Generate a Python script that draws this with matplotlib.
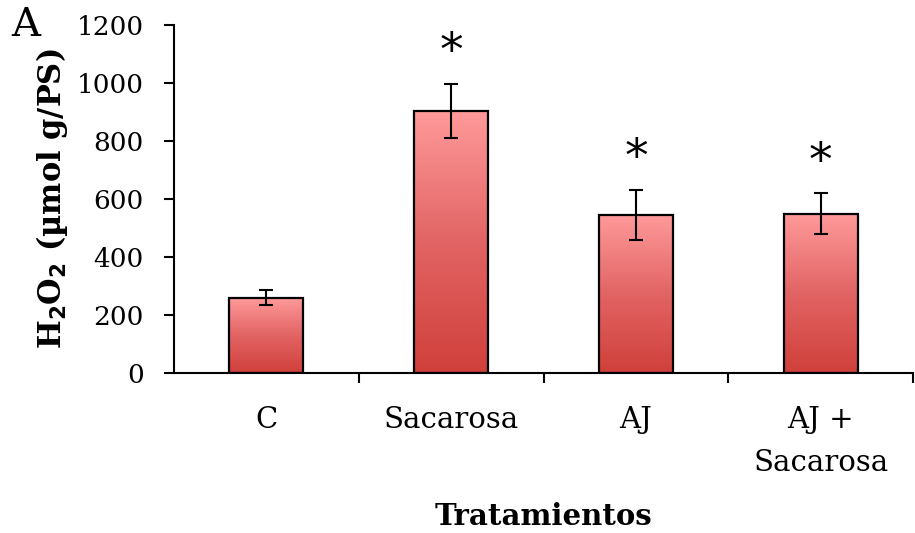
import numpy as np
import matplotlib.pyplot as plt
from matplotlib.colors import LinearSegmentedColormap

plt.rcParams['font.family'] = ['DejaVu Serif']

categorias = ["C", "Sacarosa", "AJ", "AJ +\nSacarosa"]
h2o2 = [260, 905, 546, 550]
error = [26, 93, 86, 70]
signif = [False, True, True, True]

fig = plt.figure(figsize=(9.15, 5.33), dpi=100)
ax = fig.add_axes([0.190, 0.300, 0.808, 0.653])

x = np.arange(len(categorias))
ancho = 0.4
grad = LinearSegmentedColormap.from_list("g", ["#d0403b", "#e26464", "#ff9a9a"])
gimg = np.linspace(0, 1, 256).reshape(-1, 1)

barras = ax.bar(x, h2o2, width=ancho, facecolor='none', edgecolor='black',
                linewidth=1.6, zorder=3)
for b in barras:
    x0, y0 = b.get_x(), b.get_y()
    im = ax.imshow(gimg, cmap=grad, origin='lower', aspect='auto',
                   extent=[x0, x0 + b.get_width(), y0, y0 + b.get_height()],
                   zorder=2)
    im.set_clip_path(b)

ax.errorbar(x, h2o2, yerr=error, fmt='none', ecolor='black', elinewidth=1.5,
            capsize=5, capthick=1.5, zorder=4)

for xi, v, e, s in zip(x, h2o2, error, signif):
    if s:
        ax.annotate("*", (xi, v + e), xytext=(0, 6), textcoords='offset points',
                    ha='center', va='bottom', fontsize=34, family='DejaVu Sans')

ax.set_xlim(-0.5, 3.5)
ax.set_ylim(0, 1200)
ax.set_yticks(range(0, 1201, 200))
ax.set_xticks(x)
ax.set_xticklabels(categorias, fontsize=21, linespacing=1.65)
ax.set_xticks(x + 0.5, minor=True)
ax.tick_params(axis='x', which='major', length=0, pad=24)
ax.tick_params(axis='x', which='minor', length=7.5, width=1.5, direction='out')
ax.tick_params(axis='y', length=7.5, width=1.5, direction='out', labelsize=19, pad=14)

for s in ['top', 'right']:
    ax.spines[s].set_visible(False)
for s in ['left', 'bottom']:
    ax.spines[s].set_linewidth(1.5)

ax.set_ylabel("H$_\\mathbf{2}$O$_\\mathbf{2}$ (µmol g/PS)", fontsize=22,
              fontweight='bold', labelpad=5)
ax.set_xlabel("Tratamientos", fontsize=21, fontweight='bold', labelpad=18)
fig.text(0.012, 0.952, "A", fontsize=29, va='center', ha='left')

fig.savefig("out.png", dpi=100)
